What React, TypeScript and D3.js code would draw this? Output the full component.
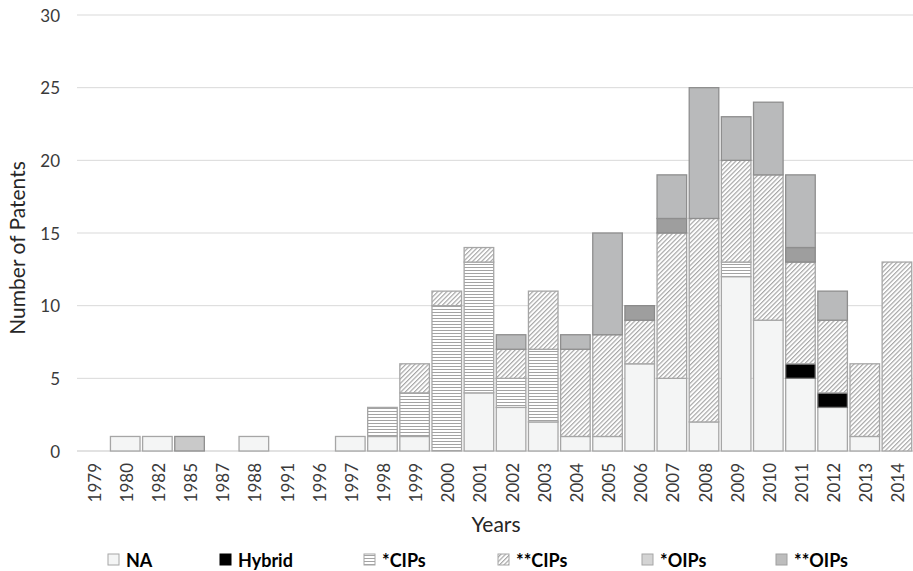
import React from "react";
import * as d3 from "d3";

const years = ["1979","1980","1982","1985","1987","1988","1991","1996","1997","1998","1999","2000","2001","2002","2003","2004","2005","2006","2007","2008","2009","2010","2011","2012","2013","2014"];
const naVals     = [0,1,1,0,0,1,0,0,1,1,1,0,4,3,2,1,1,6,5,2,12,9,5,3,1,0];
const hybridVals = [0,0,0,0,0,0,0,0,0,0,0,0,0,0,0,0,0,0,0,0,0,0,1,1,0,0];
const cips1Vals  = [0,0,0,0,0,0,0,0,0,2,3,10,9,2,5,0,0,0,0,0,1,0,0,0,0,0];
const cips2Vals  = [0,0,0,0,0,0,0,0,0,0,2,1,1,2,4,6,7,3,10,14,7,10,7,5,5,13];
const oips1Vals  = [0,0,0,0,0,0,0,0,0,0,0,0,0,0,0,0,0,1,1,0,0,0,1,0,0,0];
const oips2Vals  = [0,0,0,0,0,0,0,0,0,0,0,0,0,1,0,1,7,0,3,9,3,5,5,2,0,0];
const otherVals  = [0,0,0,1,0,0,0,0,0,0,0,0,0,0,0,0,0,0,0,0,0,0,0,0,0,0];
const yTicks = [0,5,10,15,20,25,30];

const keys = ["NA","Hybrid","*CIPs","**CIPs","*OIPs","**OIPs","Other"];
const seriesVals = [naVals, hybridVals, cips1Vals, cips2Vals, oips1Vals, oips2Vals, otherVals];

const fills: Record<string,string> = {
  "NA": "#f4f5f5",
  "Hybrid": "#000000",
  "*CIPs": "url(#hlines)",
  "**CIPs": "url(#diag)",
  "*OIPs": "#9e9e9e",
  "**OIPs": "#b9babb",
  "Other": "#c9c9c9",
};
const strokes: Record<string,string> = {
  "NA": "#a6a6a6",
  "Hybrid": "#7a7a7a",
  "*CIPs": "#a6a6a6",
  "**CIPs": "#a6a6a6",
  "*OIPs": "#8a8a8a",
  "**OIPs": "#8e8e8e",
  "Other": "#8e8e8e",
};

const legendItems = [
  { label: "NA", x: 108, fill: "#f4f5f5", stroke: "#a6a6a6" },
  { label: "Hybrid", x: 220, fill: "#000000", stroke: "#000000" },
  { label: "*CIPs", x: 364, fill: "url(#hlines)", stroke: "#a6a6a6" },
  { label: "**CIPs", x: 498, fill: "url(#diag)", stroke: "#a6a6a6" },
  { label: "*OIPs", x: 642, fill: "#d4d4d4", stroke: "#a6a6a6" },
  { label: "**OIPs", x: 776, fill: "#bdbdbd", stroke: "#a0a0a0" },
];

const FONT = "Lato, 'Open Sans', sans-serif";

export default function App() {
  const W = 913, H = 571;
  const x = d3.scaleBand<string>().domain(years).range([77, 913]).paddingInner(0.08).paddingOuter(0.04);
  const y = d3.scaleLinear().domain([0, 30]).range([451, 15]);

  const table = years.map((yr, i) => {
    const row: any = { year: yr };
    keys.forEach((k, j) => (row[k] = seriesVals[j][i]));
    return row;
  });
  const stacked = d3.stack<any>().keys(keys)(table);

  return (
    <svg width={W} height={H} style={{ position: "absolute", left: 0, top: 0, background: "#fff" }} fontFamily={FONT}>
      <defs>
        <pattern id="hlines" patternUnits="userSpaceOnUse" width="4" height="3">
          <rect width="4" height="3" fill="#ffffff" />
          <line x1="0" x2="4" y1="0.5" y2="0.5" stroke="#a3a3a3" strokeWidth="1" />
        </pattern>
        <pattern id="diag" patternUnits="userSpaceOnUse" width="3.2" height="4" patternTransform="rotate(45)">
          <rect width="3.2" height="4" fill="#ffffff" />
          <line x1="0.6" x2="0.6" y1="0" y2="4" stroke="#a0a0a0" strokeWidth="1.1" />
        </pattern>
      </defs>

      {yTicks.map((t) => (
        <g key={t}>
          <line x1={77} x2={913} y1={y(t)} y2={y(t)} stroke="#d9d9d9" strokeWidth={t === 0 ? 1.5 : 1} />
          <text x={60} y={y(t)} textAnchor="end" dominantBaseline="central" fontSize={17} fill="#3a3a3a">{t}</text>
        </g>
      ))}

      {stacked.map((s) => (
        <g key={s.key}>
          {s.map((d, i) =>
            d[1] - d[0] > 0 ? (
              <rect
                key={i}
                x={x(years[i])!}
                width={x.bandwidth()}
                y={y(d[1])}
                height={y(d[0]) - y(d[1])}
                fill={fills[s.key]}
                stroke={strokes[s.key]}
                strokeWidth={1.3}
              />
            ) : null
          )}
        </g>
      ))}

      {years.map((yr) => (
        <text
          key={yr}
          transform={`translate(${x(yr)! + x.bandwidth() / 2 + 1},463) rotate(-90)`}
          textAnchor="end"
          dominantBaseline="central"
          fontSize={17}
          fill="#3a3a3a"
        >
          {yr}
        </text>
      ))}

      <text transform="translate(16,248) rotate(-90)" textAnchor="middle" dominantBaseline="central" fontSize={21} fill="#262626">
        Number of Patents
      </text>
      <text x={496} y={523} textAnchor="middle" dominantBaseline="central" fontSize={21} fill="#262626">
        Years
      </text>

      {legendItems.map((it) => (
        <g key={it.label}>
          <rect x={it.x} y={554} width={11} height={11} fill={it.fill} stroke={it.stroke} strokeWidth={1} />
          <text x={it.x + 18} y={559.5} dominantBaseline="central" fontSize={18} fontWeight="bold" fill="#000">
            {it.label}
          </text>
        </g>
      ))}
    </svg>
  );
}
